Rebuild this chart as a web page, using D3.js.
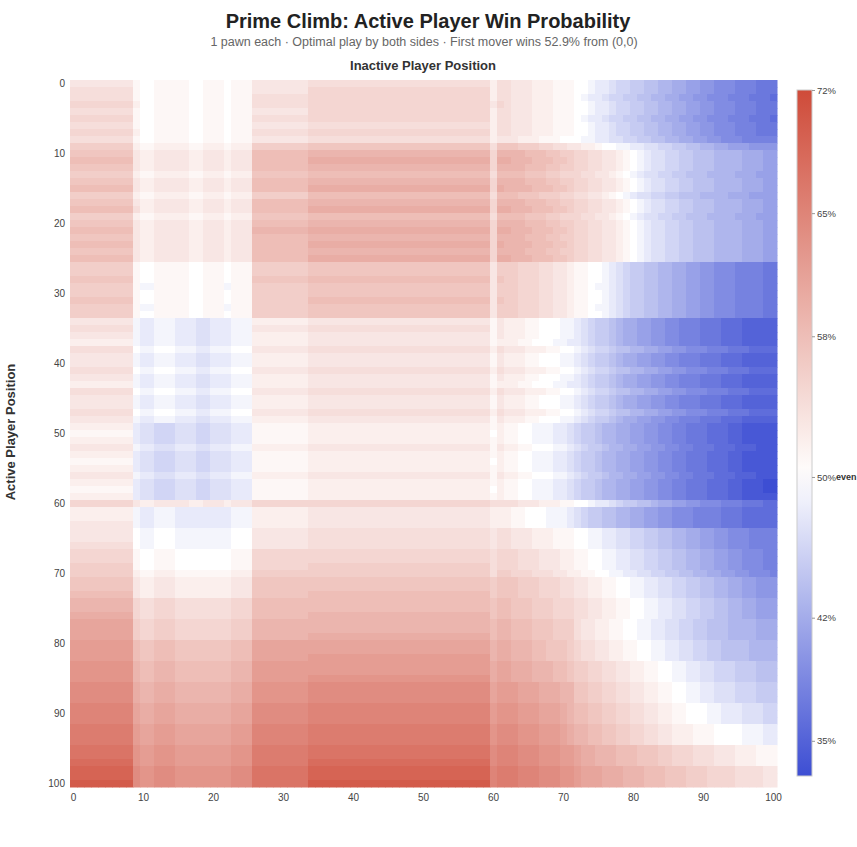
<!DOCTYPE html>
<html><head><meta charset="utf-8">
<script src="https://cdn.jsdelivr.net/npm/d3@7"></script>
<style>body{margin:0;background:#fff;font-family:"Helvetica Neue",Arial,"Liberation Sans",sans-serif;}</style>
</head><body><svg id="c" width="857" height="847"></svg>
<script>
// Level alphabet: letter index i -> win probability 32+i (%)
const levelAlphabet = "abcdefghijklmnopqrstuvwxyzABCDEFGHIJKLMNO";
const positions = d3.range(0, 101);
const xTicks = [0,10,20,30,40,50,60,70,80,90,100];
const yTicks = [0,10,20,30,40,50,60,70,80,90,100];
const cbTicks = [72,65,58,50,42,35];
// Each row (active player position 0..100): run-length encoded levels across inactive positions 0..100
const rowsRLE = [
"v9t1s2t5s2t3s1t3v8w26u1wwvvvuuutttssrqqpoonnmmllkkjjiihhhgggfff",
"w9t1s2t5s2t3s1t3v8x26u1wwvvvuuutttssrqqpoonnmmllkkjjiihhhgggfff",
"w9t1s2t5s2t3s1t3w8x26u1wwvvvuuutttsrqqpoonnmmllkkjjiihhhgggfffe",
"x9u1s2t5s2t3s1t3w8x26v1xwvvvuuutttssrqqpoonnmmllkkjjiihhhgggfff",
"w9t1s2t5s2t3s1t3v8x26u1wwvvvuuutttssrqqpoonnmmllkkjjiihhhgggfff",
"x9t1s2t5s2t3s1t3w8x26u1wwvvvuuutttsrqqpoonnmmllkkjjiihhhgggfffe",
"w9t1s2t5s2t3s1t3v8w26u1wwvvvuuutttssrqqpoonnmmllkkjjiihhhgggfff",
"x9u1s2t5s2t3s1t3w8x26u1wwvvvuuutttssrqqpoonnmmllkkjjiihhhgggfff",
"w9t1s2t5s2t3s1t3v8w26u1vvvuuutttsssrrqqppoonnmmllkkjjiihhhggg",
"y9u1t2u5t2u3t1u3y8z26w1zzzyyyxxwwvvuutssrrqqppoonnmmllkkjjjii",
"z9v1u2v5u2v3u1v3A8B26x1BBBBAAAzzyyxxwwvvutsrqppoonnmmmllllkkkjj",
"A9v1u2v5u2v3u1v3A8C26x1CCBBBAAAzzyxxwwvvutsrqppoonnmmmllllkkkjj",
"z9v1u2v5u2v3u1v3A8B26x1BBBBAAAzzyyxxwwvvutsrqppoonnmmmllllkkkjj",
"y9u1t2u5t2u3t1u3z8A26w1AAAAzzzyyxxxwwvvutsrqppoonnmmmllllkkkjj",
"z9v1u2v5u2v3u1v3A8B26x1BBBBAAAzzyyxxwwvvutsrqppoonnmmmllllkkkjj",
"A9v1u2v5u2v3u1v3A8C26x1CBBBBAAAzzyxxwwvvutsrqppoonnmmmllllkkkjj",
"y9u1t2u5t2u3t1u3y8A26w1AAAzzzyyyxxwwvvutsrqppoonnmmmllllkkkjj",
"z9v1u2v5u2v3u1v3A8B26x1BBBBAAAzzyyxxwwvvutsrqppoonnmmmllllkkkjj",
"A9w1u2v5u2v3u1v3A8C26x1CCBBBAAAzzyxxwwvvutsrqppoonnmmmllllkkkjj",
"y9u1t2u5t2u3t1u3z8A26w1AAAAzzzyyxxxwwvvutsrqppoonnmmmllllkkkjj",
"z9v1u2v5u2v3u1v3A8B26x1BBBBAAAzzyyxxwwvvutsrqppoonnmmmllllkkkjj",
"A9v1u2v5u2v3u1v3B8C26x1CCBBBAAAzzyxxwwvvutsrqppoonnmmmllllkkkjj",
"z9v1u2v5u2v3u1v3A8B26x1BBBBAAAzzyyxxwwvvutsrqppoonnmmmllllkkkjj",
"A9v1u2v5u2v3u1v3A8C26x1CBBBBAAAzzyxxwwvvutsrqppoonnmmmllllkkkjj",
"z9v1u2v5u2v3u1v3A8B26x1BBBBAAAzzyyxxwwvvutsrqppoonnmmmllllkkkjj",
"A9v1u2v5u2v3u1v3A8C26x1CCBBBAAAzzyxxwwvvutsrqppoonnmmmllllkkkjj",
"y9t1s2t5s2t3s1t3y8z26v1yyyxxxwwvvuttssrqponnmmllkkjjiihhhggggff",
"y9t1s2t5s2t3s1t3y8z26v1yyyxxxwwvvuttssrqponnmmllkkjjiihhhggggff",
"z9t1s2t5s2t3s1t3z8A26v1zyyxxxwwvvuttssrqponnmmllkkjjiihhhggggff",
"y9t1r2t5s2t3r1t3y8z26v1yyyxxxwwvvuttsrrqponnmmllkkjjiihhhggggfff",
"y9t1s2t5s2t3s1t3y8z26v1yyyxxxwwvvuttssrqponnmmllkkjjiihhhggggff",
"z9t1s2t5s2t3s1t3y8A26v1zyyxxxwwvvuttssrqponnmmllkkjjiihhhggggff",
"y9t1r2t5s2t3r1t3y8z26v1yyyxxxwwvvuttsrrqponnmmllkkjjiihhhggggfff",
"y9t1s2t5s2t3s1t3y8z26v1yyyxxxwwvvuttssrqponnmmllkkjjiihhhggggff",
"v9r1q2r3q3p2q3r3u8v26t1vuuuttsssrrqponnmlkkjjiihhgggfffeeeddddd",
"w9r1q2r3q3p2q3r3v8w26t1vuuuttsssrrqponnmlkkjjiihhgggfffeeeddddd",
"v9r1q2r3q3p2q3r3u8v26t1vuuuttsssrrqponnmlkkjjiihhgggfffeeeddddd",
"u9r1q2r3q3p2q3r3u8v26t1uuuttsssrrqqponnmlkkjjiihhgggfffeeeddddd",
"w9s1r2s3r3q2r3s3v8w26u1wvvvuuuttssrqpoonmmllkkjjiihhhgggfffeeee",
"v9r1q2r3q3p2q3r3u8v26t1vuuuttsssrrqponnmlkkjjiihhgggfffeeeddddd",
"v9r1q2r3q3p2q3r3u8v26t1vuuuttsssrrqponnmlkkjjiihhgggfffeeeddddd",
"w9s1r2s3r3q2r3s3v8w26u1wvvvuuuttssrqpoonmmllkkjjiihhhgggfffeeee",
"v9r1q2r3q3p2q3r3u8v26t1vuuuttsssrrqponnmlkkjjiihhgggfffeeeddddd",
"u9r1q2r3q3p2q3r3u8v26t1uuuttsssrrqqponnmlkkjjiihhgggfffeeeddddd",
"w9s1r2s3r3q2r3s3v8w26u1wvvvuuuttssrqpoonmmllkkjjiihhhgggfffeeee",
"v9r1q2r3q3p2q3r3u8v26t1vuuuttsssrrqponnmlkkjjiihhgggfffeeeddddd",
"v9r1q2r3q3p2q3r3u8v26t1vuuuttsssrrqponnmlkkjjiihhgggfffeeeddddd",
"w9s1r2s3r3q2r3s3v8w26u1wvvvuuuttssrqpoonmmllkkjjiihhhgggfffeeee",
"v9r1q2r3q3p2q3r3u8v26t1vuuuttsssrrqponnmlkkjjiihhgggfffeeeddddd",
"u9q1p2o3p3o2p3q3t8u26t1uttssrrrqqponnmllkkjjiihhggfffeeeddccccc",
"t9q1p2o3p3o2p3q3t8u26s1uttssrrrqqponnmllkkjjiihhggfffeeeddccccc",
"u9q1p2o3p3o2p3q3t8u26t1uttssrrrqqponnmllkkjjiihhggfffeeeddccccc",
"v9r1q2p3q3p2q3r3u8v26t1vuuttsssrrqponnmllkkjjiihhggfffeeedddccc",
"u9q1p2o3p3o2p3q3t8u26t1uttssrrrqqponnmllkkjjiihhggfffeeeddccccc",
"t9q1p2o3p3o2p3q3t8u26s1uttssrrrqqponnmllkkjjiihhggfffeeeddccccc",
"u9q1p2o3p3o2p3q3t8u26t1uttssrrrqqponnmllkkjjiihhggfffeeeddccccc",
"v9r1q2p3q3p2q3r3u8v26t1vuuttsssrrqponnmllkkjjiihhggfffeeedddccc",
"u9q1p2o3p3o2p3q3t8u26t1uttssrrrqqponnmllkkjjiihhggfffeeeddcccbb",
"t9q1p2o3p3o2p3q3t8u26s1uttssrrrqqponnmllkkjjiihhggfffeeeddcccbb",
"u9q1p2o3p3o2p3q3t8u26t1uttssrrrqqponnmllkkjjiihhggfffeeeddccccc",
"x9v1u2v5u2v3u1v3x8x26w1wwwvvvuuuttssrqqponnmmlkkjjiihhhgggfffee",
"u9r1q2r3q3q2q3r3u8v26u1uuttsssrrrqponnmmllkkjjiihhhggggfffeeeee",
"u9r1q2r3q3q2q3r3u8v26u1uuttsssrrrqponnmmllkkjjiihhhggggfffeeeee",
"v9r1q2r3q3q2q3r3u8v26u1uuttsssrrrqponnmmllkkjjiihhhggggfffeeeee",
"v9s1r2s3r3r2r3s3v8w26v1wwvvvuuutttssrrqqppoonnmmllkkjjiihhhgggg",
"v9s1r2s3r3r2r3s3v8w26v1wwvvvuuutttssrrqqppoonnmmllkkjjiihhhgggg",
"w9s1r2s3r3r2r3s3v8w26v1wwvvvuuutttssrrqqppoonnmmllkkjjiihhhgggg",
"x9t1s2t3s3s2s3t3x8x26w1xxxwwwvvvuuttssrrqqppoonnmmllkkjjiihhhgg",
"x9t1s2t3s3s2s3t3x8x26w1xxxwwwvvvuuttssrrqqppoonnmmllkkjjiihhhgg",
"y9t1s2t3s3s2s3t3x8y26w1xxxwwwvvvuuttssrrqqppoonnmmllkkjjiihhhgg",
"y9u1t2u3t3t2t3u3y8y26w1yyxxxwwwvvuuttssrrqqppoonnmmllkkjjiihhhg",
"z9v1u2v3u3u2u3v3z8z26y1zzzyyyxxxwwvvuuttssrrqqppoonnmmllkkjjiii",
"z9v1u2v3u3u2u3v3z8z26y1zzzyyyxxxwwvvuuttssrrqqppoonnmmllkkjjiii",
"A9v1u2v3u3u2u3v3z8A26y1zzzyyyxxxwwvvuuttssrrqqppoonnmmllkkjjiii",
"B9x1w2x3w3w2w3x3A8A26z1AAzzzyyyxxxwwvvuuttssrrqqppoonnmmllkkjjj",
"B9x1w2x3w3w2w3x3A8A26z1AAzzzyyyxxxwwvvuuttssrrqqppoonnmmllkkjjj",
"C9x1w2x3w3w2w3x3A8B26z1AAzzzyyyxxxwwvvuuttssrrqqppoonnmmllkkjjj",
"D9y1x2y3x3x2x3y3B8B26A1BBAAAzzzyyywvvuuttssrrqqppoonnmmmllllkkk",
"D9y1x2y3x3x2x3y3B8B26A1BBAAAzzzyyywvvuuttssrrqqppoonnmmmllllkkk",
"D9y1x2y3x3x2x3y3B8C26A1BBAAAzzzyyywvvuuttssrrqqppoonnmmmllllkkk",
"E9A1z2A3z3z2z3A3D8D26B1CCBBBAAzzzyxwwvvuuttssrrqqppoonnmmmmllll",
"E9A1z2A3z3z2z3A3D8D26B1CCBBBAAzzzyxwwvvuuttssrrqqppoonnmmmmllll",
"E9A1z2A3z3z2z3A3D8E26B1CCBBBAAzzzyxwwvvuuttssrrqqppoonnmmmmllll",
"F9B1A2B3A3A2A3B3E8E26C1DDCCCBBBAAzyyxxwwvvuuttssrrqqppooonnnmmm",
"F9B1A2B3A3A2A3B3E8E26C1DDCCCBBBAAzyyxxwwvvuuttssrrqqppooonnnmmm",
"F9B1A2B3A3A2A3B3E8F26C1DDCCCBBBAAzyyxxwwvvuuttssrrqqppooonnnmmm",
"G9C1B2C3B3B2B3C3F8G26D1EEEDDDCCCBBzzyyxxwwvvuuttssrrqqpppooonnn",
"G9C1B2C3B3B2B3C3F8G26D1EEEDDDCCCBBzzyyxxwwvvuuttssrrqqpppooonnn",
"G9C1B2C3B3B2B3C3F8G26D1EEEDDDCCCBBzzyyxxwwvvuuttssrrqqpppooonnn",
"H9D1C2D3C3C2C3D3G8H26E1FFFEEEDDDCBAAzzyyxxwwvvuuttsssrrqqqpppoo",
"H9D1C2D3C3C2C3D3G8H26E1FFFEEEDDDCBAAzzyyxxwwvvuuttsssrrqqqpppoo",
"H9D1C2D3C3C2C3D3G8H26E1FFFEEEDDDCBAAzzyyxxwwvvuuttsssrrqqqpppoo",
"I9E1D2E3D3D2D3E3H8I26F1GGGFFFEEEDCBBAAzzyyxxwwvvuuutttssssrrrqq",
"I9E1D2E3D3D2D3E3H8I26F1GGGFFFEEEDCBBAAzzyyxxwwvvuuutttssssrrrqq",
"I9E1D2E3D3D2D3E3H8I26F1GGGFFFEEEDCBBAAzzyyxxwwvvuuutttssssrrrqq",
"J9F1E2F3E3E2E3F3I8J26G1HHHGGGFFFEEDCCBBBAAAzzzyyxxxwwwvvvuuuttt",
"J9F1E2F3E3E2E3F3I8J26G1HHHGGGFFFEEDCCBBBAAAzzzyyxxxwwwvvvuuuttt",
"K9F1E2F3E3E2E3F3I8K26G1HHHGGGFFFEEDCCBBBAAAzzzyyxxxwwwvvvuuuttt",
"L9G1F2G3F3F2F3G3J8L26H1IIIHHHGGGFFEDDDCCCBBBAAAzzzyyyxxxxwwwwvv",
"L9G1F2G3F3F2F3G3J8L26H1IIIHHHGGGFFEDDDCCCBBBAAAzzzyyyxxxxwwwwvv",
"M9G1F2G3F3F2F3G3J8M26H1IIIHHHGGGFFEDDDCCCBBBAAAzzzyyyxxxxwwwwvv"
];

function decodeRow(s){
  const out=[]; const re=/([a-zA-Z])(\d*)/g; let m;
  while((m=re.exec(s))){const v=32+levelAlphabet.indexOf(m[1]);const n=m[2]?+m[2]:1;for(let i=0;i<n;i++)out.push(v);}
  while(out.length<101)out.push(out[out.length-1]);
  return out.slice(0,101);
}
const grid = rowsRLE.map(decodeRow);
const cells=[];grid.forEach((row,r)=>row.forEach((v,c)=>cells.push({r,c,v})));

const svg=d3.select("#c");
const x=d3.scaleBand().domain(positions).range([70,777]);
const y=d3.scaleBand().domain(positions).range([80,787]);
const blue="#3d4ed3", red="#cf4b39";
const color=d3.scaleDiverging().domain([33,50,72]).interpolator(t=>t<0.5?d3.interpolateRgb(blue,"#ffffff")(t*2):d3.interpolateRgb("#ffffff",red)((t-0.5)*2));

svg.append("g").selectAll("rect").data(cells).join("rect")
 .attr("x",d=>x(d.c)).attr("y",d=>y(d.r)).attr("width",x.bandwidth()+0.5).attr("height",y.bandwidth()+0.5)
 .attr("fill",d=>color(d.v));

svg.append("text").attr("x",428).attr("y",28).attr("text-anchor","middle").attr("font-size",20).attr("font-weight","bold").attr("fill","#222").text("Prime Climb: Active Player Win Probability");
svg.append("text").attr("x",424).attr("y",46).attr("text-anchor","middle").attr("font-size",12.5).attr("fill","#666").text("1 pawn each · Optimal play by both sides · First mover wins 52.9% from (0,0)");
svg.append("text").attr("x",423).attr("y",70).attr("text-anchor","middle").attr("font-size",13).attr("font-weight","bold").attr("fill","#333").text("Inactive Player Position");
svg.append("text").attr("transform","translate(15,432) rotate(-90)").attr("text-anchor","middle").attr("font-size",13).attr("font-weight","bold").attr("fill","#333").text("Active Player Position");

const xa=svg.append("g").attr("transform","translate(0,787)").call(d3.axisBottom(x).tickValues(xTicks).tickSize(0).tickPadding(7));
const ya=svg.append("g").attr("transform","translate(70,0)").call(d3.axisLeft(y).tickValues(yTicks).tickSize(0).tickPadding(5));
[xa,ya].forEach(a=>{a.select(".domain").remove();a.selectAll("text").attr("font-size",10).attr("fill","#444").attr("font-family","Helvetica Neue,Arial,Liberation Sans,sans-serif");});

// colorbar
const cbY=d3.scaleLinear().domain([33,72]).range([776,90]);
const defs=svg.append("defs");
const lg=defs.append("linearGradient").attr("id","cb").attr("x1",0).attr("y1",1).attr("x2",0).attr("y2",0);
d3.range(0,1.0001,0.05).forEach(t=>lg.append("stop").attr("offset",t).attr("stop-color",color(33+39*t)));
svg.append("rect").attr("x",797).attr("y",90).attr("width",15).attr("height",686).attr("fill","url(#cb)").attr("stroke","#ccc");
const cba=svg.append("g").attr("transform","translate(812,0)").call(d3.axisRight(cbY).tickValues(cbTicks).tickSize(3).tickPadding(2).tickFormat(d=>d+"%"));
cba.select(".domain").remove();
cba.selectAll("line").attr("stroke","#999");
cba.selectAll("text").attr("font-size",9.5).attr("fill","#444");
svg.append("text").attr("x",836).attr("y",cbY(50)+3.5).attr("font-size",9).attr("font-weight","bold").attr("fill","#333").text("even");
</script></body></html>
